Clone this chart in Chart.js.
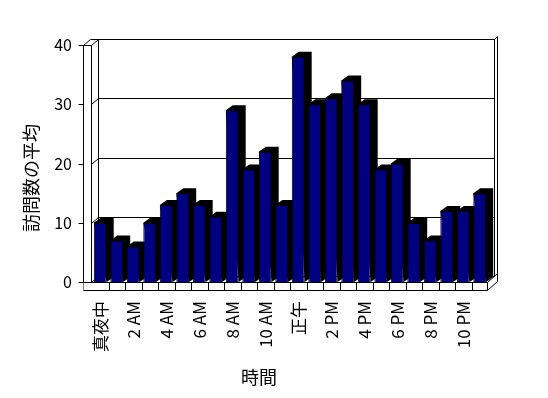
<!DOCTYPE html>
<html>
<head>
<meta charset="utf-8">
<script src="https://cdn.jsdelivr.net/npm/chart.js@4"></script>
<style>
  html, body { margin: 0; padding: 0; background: #ffffff; }
  #wrap { width: 548px; height: 398px; }
</style>
</head>
<body>
<div id="wrap"><canvas id="visitsChart" width="548" height="398"></canvas></div>
<script>
// Hour categories (every other one is labelled)
const hours = [
  "真夜中", "1 AM", "2 AM", "3 AM", "4 AM", "5 AM", "6 AM", "7 AM",
  "8 AM", "9 AM", "10 AM", "11 AM", "正午", "1 PM", "2 PM", "3 PM",
  "4 PM", "5 PM", "6 PM", "7 PM", "8 PM", "9 PM", "10 PM", "11 PM",
];

// Average visits per hour
const visits = [
  10, 7, 6, 10, 13, 15, 13, 11, 29, 19, 22, 13,
  38, 30, 31, 34, 30, 19, 20, 10, 7, 12, 12, 15,
];

// Value axis ticks
const yTicks = [0, 10, 20, 30, 40];

const yTitle = "訪問数の平均";
const xTitle = "時間";

const FONT = "'Noto Sans CJK JP', 'Noto Sans', sans-serif";

// depth of the 3D box and of the bars
const wallDepth = { dx: 7, dy: -6 };
const barDepth = { dx: 7, dy: -5 };

function line(ctx, pts) {
  ctx.beginPath();
  ctx.moveTo(pts[0][0], pts[0][1]);
  for (let i = 1; i < pts.length; i++) ctx.lineTo(pts[i][0], pts[i][1]);
  ctx.stroke();
}

// Draws the walls, floor, gridlines and bar sides behind the bar fronts
const box3d = {
  id: "box3d",
  beforeDatasetsDraw(chart) {
    const { ctx, chartArea: a, scales } = chart;
    const x = scales.x;
    const y = scales.y;
    const dx = wallDepth.dx;
    const dy = wallDepth.dy;
    const L = Math.round(a.left - 1) + 0.5;
    const R = Math.round(a.right - 1) + 0.5;
    const T = Math.round(a.top) + 0.5;
    const B = Math.round(a.bottom) + 0.5;
    const slab = 8;

    ctx.save();
    ctx.strokeStyle = "#000000";
    ctx.lineWidth = 1;

    // back wall gridlines + side wall diagonals
    yTicks.forEach((v) => {
      if (v === 0) return;
      const py = Math.round(y.getPixelForValue(v)) + 0.5;
      line(ctx, [[L, py], [L + dx, py + dy], [R + dx, py + dy]]);
      // tick mark on the front edge
      line(ctx, [[L - slab - 5, py], [L - slab, py]]);
    });
    line(ctx, [[L - slab - 5, B], [L - slab, B]]);

    // left wall slab
    line(ctx, [[L - slab, B + slab], [L - slab, T], [L, T], [L, B]]);
    line(ctx, [[L - slab, T], [L - slab + dx, T + dy], [R + dx, T + dy]]);
    line(ctx, [[L + dx, T + dy], [L + dx, B + dy]]);

    // back wall right edge and thickness
    line(ctx, [[R + dx, T + dy], [R + dx, B + dy]]);
    line(ctx, [[R + dx, T + dy], [R + dx + 3, T + dy - 3], [R + dx + 3, B + dy - 3]]);

    // floor back edge
    line(ctx, [[L, B], [L + dx, B + dy], [R + dx, B + dy]]);

    // floor slab front face
    ctx.fillStyle = "#ffffff";
    ctx.fillRect(L - slab, B, R - L + slab, slab);
    line(ctx, [[L - slab, B], [R, B], [R, B + slab], [L - slab, B + slab]]);
    line(ctx, [[R, B], [R + dx + 3, B + dy - 3], [R + dx + 3, B + slab + dy - 3], [R, B + slab]]);

    // category dividers on the floor front
    const step = (x.getPixelForValue(1) - x.getPixelForValue(0));
    for (let i = 1; i < hours.length; i++) {
      const px = Math.round(x.getPixelForValue(i) - step / 2) + 0.5;
      line(ctx, [[px, B], [px, B + slab]]);
    }

    // dark top and side of each bar
    ctx.fillStyle = "#000000";
    const meta = chart.getDatasetMeta(0);
    meta.data.forEach((bar) => {
      const x1 = bar.x - bar.width / 2;
      const x2 = bar.x + bar.width / 2;
      const yt = bar.y;
      const yb = bar.base;
      ctx.beginPath();
      ctx.moveTo(x1, yt);
      ctx.lineTo(x1 + barDepth.dx, yt + barDepth.dy);
      ctx.lineTo(x2 + barDepth.dx, yt + barDepth.dy);
      ctx.lineTo(x2 + barDepth.dx, yb + barDepth.dy);
      ctx.lineTo(x2, yb);
      ctx.closePath();
      ctx.fill();
    });
    ctx.restore();
  },
  afterDraw(chart) {
    const { ctx } = chart;
    ctx.save();
    ctx.fillStyle = "#000000";
    ctx.font = "18px " + FONT;
    ctx.textAlign = "center";
    ctx.textBaseline = "middle";
    ctx.fillText(xTitle, 259, 377);
    ctx.translate(31, 178);
    ctx.rotate(-Math.PI / 2);
    ctx.fillText(yTitle, 0, 0);
    ctx.restore();
  },
};

const ctx = document.getElementById("visitsChart").getContext("2d");
new Chart(ctx, {
  type: "bar",
  data: {
    labels: hours,
    datasets: [
      {
        label: yTitle,
        data: visits,
        backgroundColor: "#000080",
        borderColor: "#000000",
        borderWidth: 1,
        barPercentage: 0.78,
        categoryPercentage: 1.0,
      },
    ],
  },
  options: {
    responsive: false,
    animation: false,
    devicePixelRatio: 1,
    layout: {
      padding: { top: 45, right: 60, left: 0, bottom: 0 },
    },
    plugins: {
      legend: { display: false },
      tooltip: { enabled: false },
    },
    scales: {
      x: {
        afterFit: (s) => { s.height = 116; },
        grid: { display: false, drawTicks: false },
        border: { display: false },
        ticks: {
          autoSkip: false,
          minRotation: 90,
          maxRotation: 90,
          padding: 19,
          color: "#000000",
          font: { family: FONT, size: 17 },
          callback: function (value, index) {
            return index % 2 === 0 ? this.getLabelForValue(value) : "";
          },
        },
      },
      y: {
        min: 0,
        max: 40,
        afterFit: (s) => { s.width = 92; },
        afterBuildTicks: (s) => { s.ticks = yTicks.map((v) => ({ value: v })); },
        grid: { display: false, drawTicks: false },
        border: { display: false },
        ticks: {
          padding: 20,
          color: "#000000",
          font: { family: FONT, size: 16 },
        },
      },
    },
  },
  plugins: [box3d],
});
</script>
</body>
</html>
